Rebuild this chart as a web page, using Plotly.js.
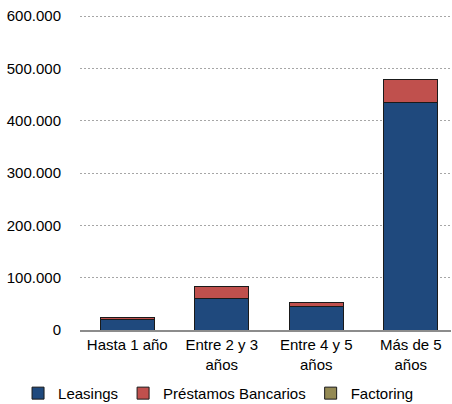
<!DOCTYPE html>
<html>
<head>
<meta charset="utf-8">
<script src="https://cdn.plot.ly/plotly-3.0.1.min.js"></script>
<style>html,body{margin:0;padding:0;background:#fff;}#chart{width:452px;height:404px;}</style>
</head>
<body>
<div id="chart"></div>
<script>
var categories = ["Hasta 1 año", "Entre 2 y 3<br>años", "Entre 4 y 5<br>años", "Más de 5<br>años"];
var leasings = [21000, 60000, 45000, 435000];
var prestamos = [2500, 23000, 8500, 43000];
var factoring = [800, 0, 0, 0];
var yTicks = [0, 100000, 200000, 300000, 400000, 500000, 600000];

var lineStyle = {color: '#1a1a1a', width: 1};
var traces = [
  {type: 'bar', name: 'Leasings', x: categories, y: leasings, marker: {color: '#1F497D', line: lineStyle}},
  {type: 'bar', name: 'Préstamos Bancarios', x: categories, y: prestamos, marker: {color: '#C0504D', line: lineStyle}},
  {type: 'bar', name: 'Factoring', x: categories, y: factoring, marker: {color: '#948A54', line: lineStyle}}
];

var fontFam = '"Liberation Sans", Arial, sans-serif';
var layout = {
  width: 452, height: 404,
  margin: {l: 80, r: 1, t: 14, b: 74, autoexpand: false},
  barmode: 'stack',
  bargap: 0.43,
  separators: ',.',
  paper_bgcolor: '#fff', plot_bgcolor: '#fff',
  font: {family: fontFam, size: 15, color: '#000'},
  xaxis: {
    type: 'category',
    range: [-0.5, 3.426],
    showline: true, linecolor: '#8c8c8c', linewidth: 2,
    showgrid: false, ticks: '', tickfont: {size: 15}
  },
  yaxis: {
    range: [0, 603822],
    tickvals: yTicks,
    tickformat: ',',
    showgrid: true, gridcolor: '#a6a6a6', griddash: '2px,2px', gridwidth: 1,
    zeroline: false, showline: false, ticks: '',
    ticklabelstandoff: 18,
    tickfont: {size: 15}
  },
  showlegend: true,
  legend: {
    orientation: 'h',
    xref: 'paper', yref: 'paper',
    x: -0.167, xanchor: 'left',
    y: -0.2006, yanchor: 'middle',
    font: {size: 15},
    traceorder: 'normal',
    itemwidth: 30,
    bgcolor: 'rgba(0,0,0,0)'
  }
};

Plotly.newPlot('chart', traces, layout, {displayModeBar: false, staticPlot: true});
</script>
</body>
</html>
